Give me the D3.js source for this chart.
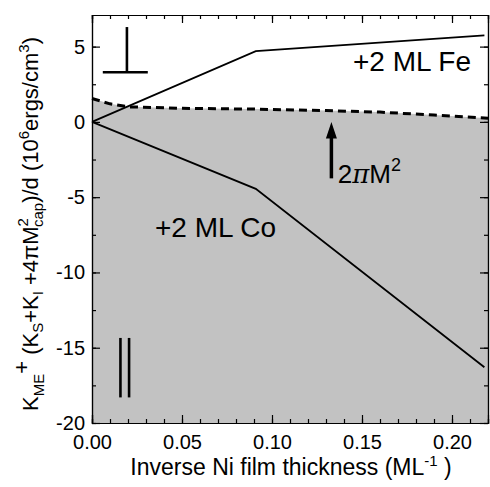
<!DOCTYPE html>
<html lang="en">

<head>
    <meta charset="UTF-8">
    <title>Anisotropy vs inverse Ni thickness</title>
    <script src="https://d3js.org/d3.v7.min.js"></script>
    <style>
        body {
            margin: 0;
            background: #fff;
        }

        svg {
            display: block;
            font-family: "Liberation Sans", Arial, sans-serif;
        }

        .axis path,
        .axis line {
            stroke: #000;
            stroke-width: 1.2px;
        }

        .axis text {
            font-size: 20px;
            fill: #000;
        }
    </style>
</head>

<body>
    <svg></svg>
    <script>
        const width = 490;
        const height = 487;

        // data
        const feX = [0, 0.091, 0.218];
        const feY = [0, 4.7, 5.75];
        const coX = [0, 0.091, 0.218];
        const coY = [0, -4.45, -16.3];
        const dashX = [0, 0.01, 0.02, 0.05, 0.09, 0.13, 0.16, 0.19, 0.22];
        const dashY = [1.55, 1.2, 1.0, 0.9, 0.85, 0.75, 0.65, 0.45, 0.25];
        const xTicks = [0, 0.05, 0.10, 0.15, 0.20];
        const yTicks = [-20, -15, -10, -5, 0, 5];

        const margin = { top: 15, right: 2, bottom: 64, left: 92 };

        const svg = d3.select("svg")
            .attr("width", width)
            .attr("height", height);

        const x = d3.scaleLinear().domain([0, 0.22]).range([margin.left, width - margin.right]);
        const y = d3.scaleLinear().domain([-20, 7.1]).range([height - margin.bottom, margin.top]);

        // shaded region under dashed curve
        const dashPts = dashX.map((d, i) => [d, dashY[i]]);
        const area = d3.area()
            .x(d => x(d[0]))
            .y0(y(-20))
            .y1(d => y(d[1]));

        svg.append("path")
            .datum(dashPts)
            .attr("d", area)
            .attr("fill", "#c2c2c2");

        const line = d3.line().x(d => x(d[0])).y(d => y(d[1]));

        svg.append("path")
            .datum(dashPts)
            .attr("d", line)
            .attr("fill", "none")
            .attr("stroke", "#000")
            .attr("stroke-width", 3)
            .attr("stroke-dasharray", "8,5");

        svg.append("path")
            .datum(feX.map((d, i) => [d, feY[i]]))
            .attr("d", line)
            .attr("fill", "none")
            .attr("stroke", "#000")
            .attr("stroke-width", 1.8);

        svg.append("path")
            .datum(coX.map((d, i) => [d, coY[i]]))
            .attr("d", line)
            .attr("fill", "none")
            .attr("stroke", "#000")
            .attr("stroke-width", 1.8);

        // axes, ticks pointing inward
        const minorX = d3.range(0, 0.2201, 0.01);
        const minorY = d3.range(-20, 7.01, 2.5);

        function addAxis(axis, transform) {
            return svg.append("g").attr("class", "axis").attr("transform", transform).call(axis);
        }

        addAxis(d3.axisBottom(x).tickValues(minorX).tickSize(-4).tickFormat(""), `translate(0,${y(-20)})`);
        addAxis(d3.axisBottom(x).tickValues(xTicks).tickSize(-8).tickPadding(12).tickFormat(d3.format(".2f")), `translate(0,${y(-20)})`);
        addAxis(d3.axisTop(x).tickValues(minorX).tickSize(-4).tickFormat(""), `translate(0,${margin.top})`);
        addAxis(d3.axisTop(x).tickValues(xTicks).tickSize(-8).tickFormat(""), `translate(0,${margin.top})`);
        addAxis(d3.axisLeft(y).tickValues(minorY).tickSize(-4).tickFormat(""), `translate(${margin.left},0)`);
        addAxis(d3.axisLeft(y).tickValues(yTicks).tickSize(-8).tickPadding(7).tickFormat(d => d), `translate(${margin.left},0)`);
        addAxis(d3.axisRight(y).tickValues(minorY).tickSize(-4).tickFormat(""), `translate(${width - margin.right},0)`);
        addAxis(d3.axisRight(y).tickValues(yTicks).tickSize(-8).tickFormat(""), `translate(${width - margin.right},0)`);

        svg.selectAll(".axis .domain").attr("stroke-width", 1.6);

        // perpendicular symbol
        const sym = svg.append("g").attr("stroke", "#000").attr("stroke-width", 2.6);
        sym.append("line")
            .attr("x1", x(0.0194)).attr("x2", x(0.0194))
            .attr("y1", y(6.3)).attr("y2", y(3.3));
        sym.append("line")
            .attr("x1", x(0.006)).attr("x2", x(0.031))
            .attr("y1", y(3.3)).attr("y2", y(3.3));

        // parallel symbol
        [0.0158, 0.0206].forEach(v => {
            sym.append("line")
                .attr("x1", x(v)).attr("x2", x(v))
                .attr("y1", y(-14.35)).attr("y2", y(-18.3));
        });

        // arrow 2piM^2
        const ax = x(0.133);
        svg.append("line")
            .attr("x1", ax).attr("x2", ax)
            .attr("y1", y(-3.75)).attr("y2", y(-0.9))
            .attr("stroke", "#000").attr("stroke-width", 3.5);
        svg.append("path")
            .attr("d", `M${ax},${y(0)} L${ax - 5.5},${y(-1.1)} L${ax + 5.5},${y(-1.1)} Z`)
            .attr("fill", "#000");

        const lbl = svg.append("text")
            .attr("x", x(0.1365))
            .attr("y", y(-4.05))
            .attr("font-size", 26);
        lbl.append("tspan").text("2");
        lbl.append("tspan").attr("font-family", "DejaVu Serif").attr("font-style", "italic").text("π");
        lbl.append("tspan").text("M");
        lbl.append("tspan").attr("dy", -12).attr("font-size", 18).text("2");

        svg.append("text")
            .attr("x", x(0.145))
            .attr("y", y(3.4))
            .attr("font-size", 28)
            .text("+2 ML Fe");

        svg.append("text")
            .attr("x", x(0.035))
            .attr("y", y(-7.65))
            .attr("font-size", 28)
            .text("+2 ML Co");

        // x title
        const xt = svg.append("text")
            .attr("x", 291)
            .attr("y", 475)
            .attr("text-anchor", "middle")
            .attr("font-size", 23);
        xt.append("tspan").text("Inverse Ni film thickness (ML");
        xt.append("tspan").attr("dy", -9).attr("font-size", 15).text("-1");
        xt.append("tspan").attr("dy", 9).text(" )");

        // y title
        const yt = svg.append("text")
            .attr("transform", "translate(38,224) rotate(-90)")
            .attr("text-anchor", "middle")
            .attr("font-size", 22);
        const parts = [
            ["K", 0, 22], ["ME", 6, 15], ["+", -15, 22], [" (K", 9, 22], ["S", 5, 15],
            ["+K", -5, 22], ["I", 5, 15], [" +4", -5, 22], ["π", 0, 22], ["M", 0, 22],
            ["2", -10, 15], ["cap", 15, 15], [")/d (10", -5, 22], ["6", -9, 15],
            ["ergs/cm", 9, 22], ["3", -9, 15], [")", 9, 22]
        ];
        parts.forEach(p => {
            const t = yt.append("tspan").attr("dy", p[1]).attr("font-size", p[2]).text(p[0]);
            if (p[0] === "cap") t.attr("dx", -9);
        });
    </script>
</body>

</html>
